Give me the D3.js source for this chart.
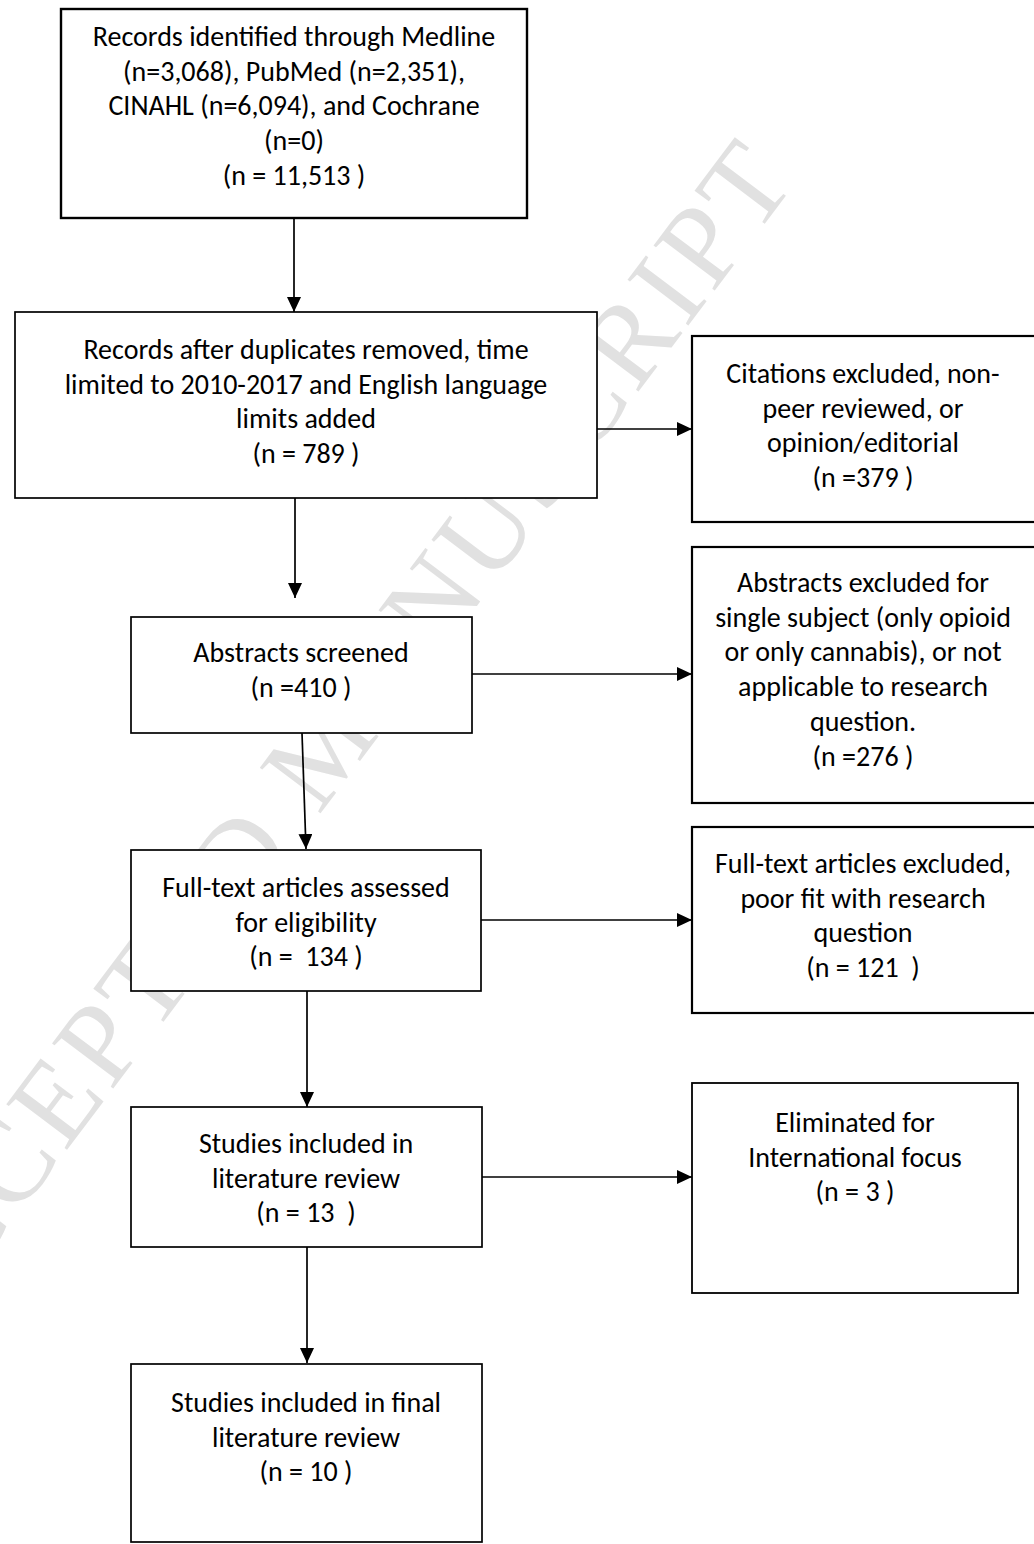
<!DOCTYPE html>
<html>
<head>
<meta charset="utf-8">
<script src="https://cdn.jsdelivr.net/npm/d3@7"></script>
<style>
  html, body { margin: 0; padding: 0; background: #fff; }
  svg { display: block; }
  .lbl { font-family: Carlito, Lato, sans-serif; font-size: 28px; fill: #000; white-space: pre; }
</style>
</head>
<body>
<script>
// stages down the left column
const stageLines = [
  ["Records identified through Medline", "(n=3,068), PubMed (n=2,351),", "CINAHL (n=6,094), and Cochrane", "(n=0)"],
  ["Records after duplicates removed, time", "limited to 2010-2017 and English language", "limits added"],
  ["Abstracts screened"],
  ["Full-text articles assessed", "for eligibility"],
  ["Studies included in", "literature review"],
  ["Studies included in final", "literature review"]
];
const stageCounts = ["(n = 11,513 )", "(n = 789 )", "(n =410 )", "(n =  134 )", "(n = 13  )", "(n = 10 )"];

// exclusions on the right
const excludedLines = [
  ["Citations excluded, non-", "peer reviewed, or", "opinion/editorial"],
  ["Abstracts excluded for", "single subject (only opioid", "or only cannabis), or not", "applicable to research", "question."],
  ["Full-text articles excluded,", "poor fit with research", "question"],
  ["Eliminated for", "International focus"]
];
const excludedCounts = ["(n =379 )", "(n =276 )", "(n = 121  )", "(n = 3 )"];
const excludedFrom = [1, 2, 3, 4];   // stage index each exclusion branches off

const watermark = "ACCEPTED MANUSCRIPT";

// layout (page pixels)
const W = 1034, H = 1544, lineH = 34.7;
const stageBox = [
  {x: 61,  y: 9,    w: 466, h: 209, cx: 294, top: 46},
  {x: 15,  y: 312,  w: 582, h: 186, cx: 306, top: 359},
  {x: 131, y: 617,  w: 341, h: 116, cx: 301, top: 662},
  {x: 131, y: 850,  w: 350, h: 141, cx: 306, top: 897},
  {x: 131, y: 1107, w: 351, h: 140, cx: 306, top: 1153},
  {x: 131, y: 1364, w: 351, h: 178, cx: 306, top: 1412}
];
const excludedBox = [
  {x: 692, y: 336,  w: 360, h: 186, cx: 863, top: 383},
  {x: 692, y: 547,  w: 360, h: 256, cx: 863, top: 592},
  {x: 692, y: 827,  w: 360, h: 186, cx: 863, top: 873},
  {x: 692, y: 1083, w: 326, h: 210, cx: 855, top: 1132}
];
const downArrows = [
  [[294, 218], [294, 312]],
  [[295, 498], [295, 598]],
  [[302, 733], [306, 849]],
  [[307, 991], [307, 1107]],
  [[307, 1247], [307, 1363]]
];
const branchY = [429, 674, 920, 1177];

const svg = d3.select(document.body).append('svg')
  .attr('width', W)
  .attr('height', H);

svg.append('defs').append('marker')
  .attr('id', 'head')
  .attr('markerUnits', 'userSpaceOnUse')
  .attr('markerWidth', 15).attr('markerHeight', 14)
  .attr('refX', 15).attr('refY', 7)
  .attr('orient', 'auto')
  .append('path')
  .attr('d', 'M0,0L15,7L0,14Z')
  .attr('fill', '#000');

// watermark behind everything
const wmCx = 322, wmCy = 744;
svg.append('text')
  .attr('transform', `translate(${wmCx},${wmCy}) rotate(-53)`)
  .attr('text-anchor', 'middle')
  .attr('dy', '0.35em')
  .attr('textLength', 1470)
  .attr('lengthAdjust', 'spacing')
  .style('font-family', '"Liberation Serif", "Times New Roman", serif')
  .style('font-size', '116px')
  .style('fill', '#e1e1e1')
  .text(watermark);

const line = d3.line();
const arrows = svg.append('g')
  .attr('fill', 'none')
  .attr('stroke', '#000')
  .attr('stroke-width', 1.7);

arrows.selectAll('.down')
  .data(downArrows)
  .enter().append('path')
  .attr('class', 'down')
  .attr('d', d => line(d))
  .attr('marker-end', 'url(#head)');

arrows.selectAll('.branch')
  .data(excludedFrom)
  .enter().append('path')
  .attr('class', 'branch')
  .attr('d', (s, i) => {
    let a = stageBox[s], b = excludedBox[i];
    return line([[a.x + a.w, branchY[i]], [b.x, branchY[i]]]);
  })
  .attr('marker-end', 'url(#head)');

function drawBoxes(cls, lines, counts, boxes, sw) {
  let g = svg.selectAll('.' + cls)
    .data(lines.map((l, i) => ({lines: l.concat([counts[i]]), box: boxes[i], i: i})))
    .enter().append('g')
    .attr('class', cls);

  g.append('rect')
    .attr('x', d => d.box.x)
    .attr('y', d => d.box.y)
    .attr('width', d => d.box.w)
    .attr('height', d => d.box.h)
    .attr('fill', '#fff')
    .attr('stroke', '#000')
    .attr('stroke-width', d => sw(d));

  g.each(function(d) {
    d3.select(this).selectAll('text')
      .data(d.lines)
      .enter().append('text')
      .attr('class', 'lbl')
      .attr('x', d.box.cx)
      .attr('y', (t, j) => d.box.top + j * lineH)
      .attr('text-anchor', 'middle')
      .text(t => t);
  });
}

drawBoxes('stage', stageLines, stageCounts, stageBox, d => (d.i === 0 ? 2.4 : 1.7));
drawBoxes('excl', excludedLines, excludedCounts, excludedBox, d => (d.i < 3 ? 2.2 : 1.8));
</script>
</body>
</html>
